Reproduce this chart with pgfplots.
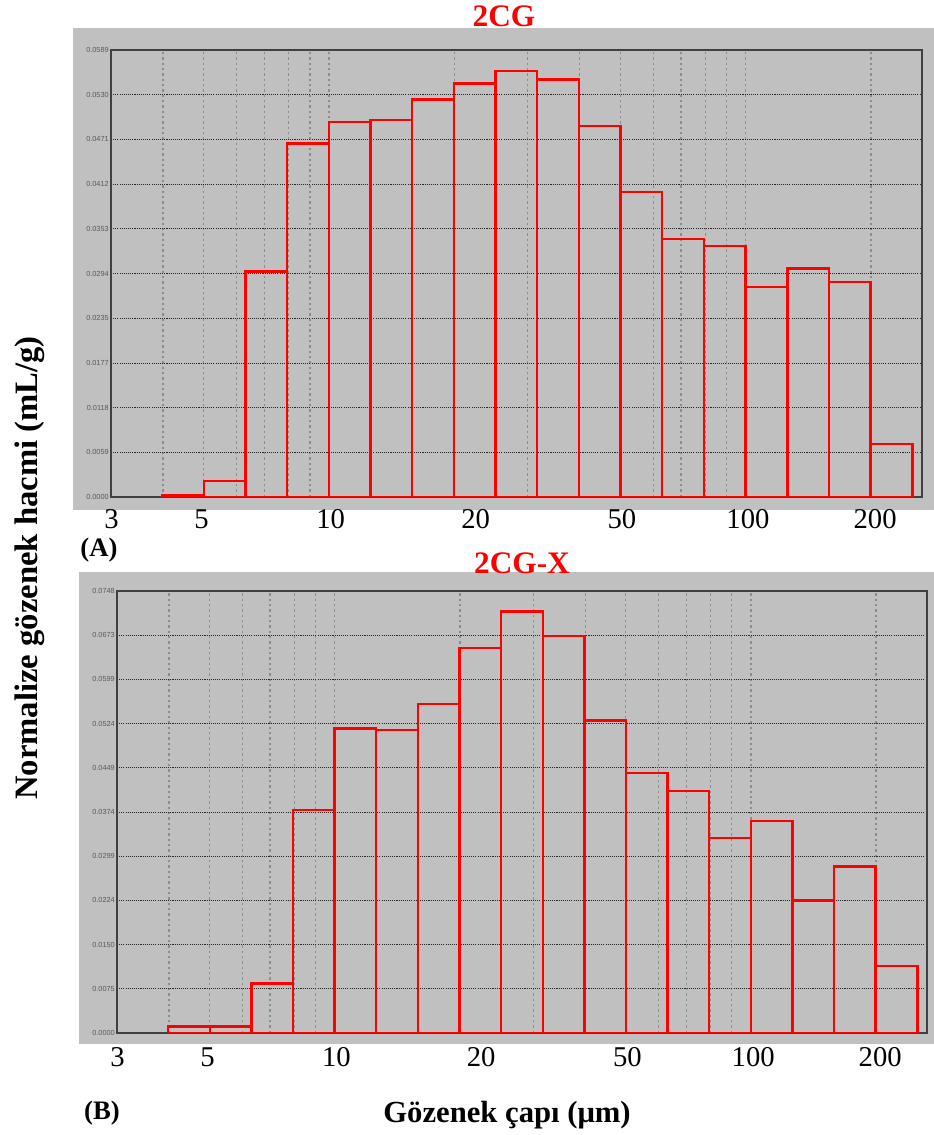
\documentclass[border=0pt]{standalone}
\usepackage{fontspec}
\setmainfont{Liberation Serif}
\setsansfont{Liberation Sans}
\usepackage{pgfplots}
\pgfplotsset{compat=1.18}
\definecolor{panelgray}{HTML}{C0C0C0}
\definecolor{histred}{HTML}{FF0000}

% bin edges are 10^(0.6 + 0.1 k); last row closes the interval
\pgfplotstableread{
x        v
3.981    0.0002
5.012    0.0021
6.310    0.0297
7.943    0.0466
10.000   0.0494
12.589   0.0497
15.849   0.0524
19.953   0.0545
25.119   0.0561
31.623   0.0550
39.811   0.0489
50.119   0.0402
63.096   0.0340
79.433   0.0331
100.000  0.0277
125.893  0.0301
158.489  0.0283
199.526  0.0070
251.189  0.0070
}\cgtable

\pgfplotstableread{
x        v
3.981    0.0011
5.012    0.0011
6.310    0.0084
7.943    0.0377
10.000   0.0515
12.589   0.0513
15.849   0.0557
19.953   0.0652
25.119   0.0713
31.623   0.0672
39.811   0.0529
50.119   0.0440
63.096   0.0410
79.433   0.0330
100.000  0.0359
125.893  0.0224
158.489  0.0282
199.526  0.0113
251.189  0.0113
}\cgxtable

\pgfplotsset{
  psd/.style={
    scale only axis,
    xmin=3, xmax=265, ymin=0,
    scaled y ticks=false,
    axis line style={draw=black!75, line width=0.8pt},
    xtick={4,5,6,7,8,9,10,20,30,40,50,60,70,80,90,100,200},
    xticklabels={},
    major tick length=0pt,
    grid=major,
    every axis x grid/.style={draw=black!45, line width=1pt, dash pattern=on 1.8pt off 2.2pt},
    every axis y grid/.style={draw=black!85, line width=0.55pt, dash pattern=on 0.8pt off 0.8pt},
    extra x ticks={3.01,4.95,10.1,22.5,50.5,101.3,204.5},
    extra x tick labels={3,5,10,20,50,100,200},
    yticklabel style={font=\sffamily\fontsize{5.5}{6}\selectfont, text=black!65, inner sep=1.5pt},
  }
}

\begin{document}
\begin{tikzpicture}
\useasboundingbox (0,0) rectangle (700.5pt,851.25pt);

% gray panels behind the axes
\fill[panelgray] (54.75pt,468.75pt) rectangle (700.5pt,830.25pt);
\fill[panelgray] (59.25pt,68.25pt) rectangle (700.5pt,422.25pt);

% (A) 2CG
\begin{semilogxaxis}[psd,
    at={(83.25pt,478.5pt)}, anchor=south west,
    width=608.25pt, height=335.25pt,
    ymax=0.0589,
    ytick={0,0.00589,0.01178,0.01767,0.02356,0.02945,0.03534,0.04123,0.04712,0.05301,0.0589},
    yticklabels={0.0000,0.0059,0.0118,0.0177,0.0235,0.0294,0.0353,0.0412,0.0471,0.0530,0.0589},
    extra x tick style={grid=none, major tick length=0pt,
      tick label style={font=\fontsize{21.5}{22}\selectfont, text=black, inner sep=0pt, yshift=-9pt}},
]
\addplot[ybar interval, draw=histred, fill=none, line width=1.8pt] table[x=x, y=v] {\cgtable};
\end{semilogxaxis}

% (B) 2CG-X
\begin{semilogxaxis}[psd,
    at={(87.75pt,76.5pt)}, anchor=south west,
    width=607.5pt, height=331.5pt,
    ymax=0.0748,
    ytick={0,0.00748,0.01496,0.02244,0.02992,0.0374,0.04488,0.05236,0.05984,0.06732,0.0748},
    yticklabels={0.0000,0.0075,0.0150,0.0224,0.0299,0.0374,0.0449,0.0524,0.0599,0.0673,0.0748},
    extra x tick style={grid=none, major tick length=0pt,
      tick label style={font=\fontsize{21.5}{22}\selectfont, text=black, inner sep=0pt, yshift=-11pt}},
]
\addplot[ybar interval, draw=histred, fill=none, line width=1.8pt] table[x=x, y=v] {\cgxtable};
\end{semilogxaxis}

% titles and labels
\node[text=histred, font=\bfseries\fontsize{23.5}{24}\selectfont] at (378pt,839.25pt) {2CG};
\node[text=histred, font=\bfseries\fontsize{23.5}{24}\selectfont] at (391.5pt,429pt) {2CG-X};
\node[font=\bfseries\fontsize{20}{21}\selectfont] at (74.25pt,438.75pt) {(A)};
\node[font=\bfseries\fontsize{20}{21}\selectfont] at (76.5pt,16.5pt) {(B)};
\node[rotate=90, font=\bfseries\fontsize{24.5}{25}\selectfont] at (22.5pt,425.25pt) {Normalize gözenek hacmi (mL/g)};
\node[font=\bfseries\fontsize{23}{24}\selectfont] at (380.25pt,15pt) {Gözenek çapı (μm)};
\end{tikzpicture}
\end{document}
